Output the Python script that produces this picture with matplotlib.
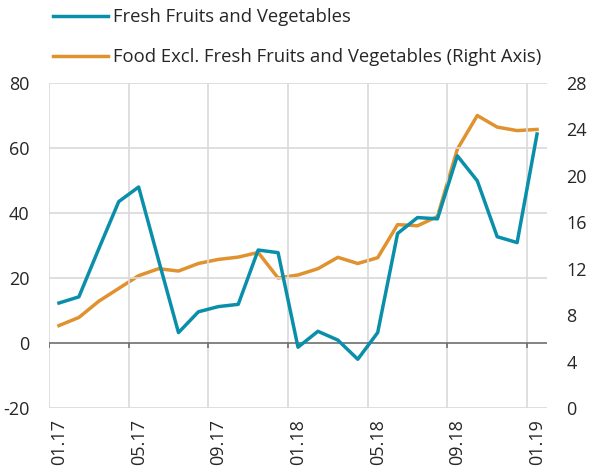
import numpy as np
import matplotlib
matplotlib.use('Agg')
import matplotlib.pyplot as plt

plt.rcParams['font.family'] = ['Open Sans', 'DejaVu Sans']
plt.rcParams['axes.unicode_minus'] = False

# Dados
meses = ['01.17', '02.17', '03.17', '04.17', '05.17', '06.17', '07.17', '08.17', '09.17',
         '10.17', '11.17', '12.17', '01.18', '02.18', '03.18', '04.18', '05.18', '06.18',
         '07.18', '08.18', '09.18', '10.18', '11.18', '12.18', '01.19']
frutas_legumes = [12.3, 14.2, 29.0, 43.5, 48.0, 25.5, 3.2, 9.6, 11.2, 11.9, 28.6, 27.8,
                  -1.3, 3.6, 0.9, -5.0, 3.2, 33.7, 38.6, 38.2, 57.6, 49.9, 32.7, 30.9, 64.3]
alimentos_excl = [7.1, 7.8, 9.2, 10.3, 11.4, 12.0, 11.8, 12.45, 12.8, 13.0, 13.4, 11.2,
                  11.46, 12.0, 12.98, 12.45, 12.95, 15.8, 15.7, 16.5, 22.3, 25.2, 24.2, 23.9, 24.0]
label_azul = 'Fresh Fruits and Vegetables'
label_laranja = 'Food Excl. Fresh Fruits and Vegetables (Right Axis)'

azul = '#0A8FAB'
laranja = '#E0922F'
cinza = '#D9D9D9'
texto = '#262626'

x = np.arange(len(meses))

fig = plt.figure(figsize=(5.9, 4.73), dpi=100)
ax = fig.add_axes([49 / 590, 1 - 408 / 473, (547 - 49) / 590, (408 - 83) / 473])
ax2 = ax.twinx()

# Eixo esquerdo
ax.set_xlim(-0.5, len(meses) - 0.5)
ax.set_ylim(-20, 80)
ax.set_yticks(np.arange(-20, 81, 20))
for v in np.arange(-20, 81, 20):
    if v != 0:
        ax.axhline(v, color=cinza, lw=1.2, zorder=0)
limites = np.arange(-0.5, len(meses) - 0.5, 4)
for b in limites:
    ax.axvline(b, color=cinza, lw=1.2, zorder=0)
ax.axhline(0, color='#6E6E6E', lw=1.2, zorder=1)
ax.vlines(limites, -1.6, 0, color='#6E6E6E', lw=1.2, zorder=1)

ax.set_xticks(x[::4])
ax.set_xticklabels(meses[::4], rotation=90)
ax.tick_params(axis='x', length=0, pad=8, labelsize=13, colors=texto)
ax.tick_params(axis='y', length=0, pad=14, labelsize=13, colors=texto)

# Eixo direito
ax2.set_ylim(0, 28)
ax2.set_yticks(np.arange(0, 29, 4))
ax2.tick_params(axis='y', length=0, pad=14, labelsize=13, colors=texto)

for a in (ax, ax2):
    for s in a.spines.values():
        s.set_visible(False)

l1, = ax.plot(x, frutas_legumes, color=azul, lw=2.5, label=label_azul, zorder=3)
l2, = ax2.plot(x, alimentos_excl, color=laranja, lw=2.5, label=label_laranja, zorder=3)
ax.set_zorder(ax2.get_zorder() + 1)
ax.patch.set_visible(False)

fig.legend(handles=[l1, l2], loc='upper left', bbox_to_anchor=(53 / 590, 1 - 8 / 473),
           frameon=False, fontsize=13.3, handlelength=3.0, handletextpad=0.25,
           labelspacing=1.2, borderpad=0, borderaxespad=0, labelcolor=texto)

fig.savefig('out.png', dpi=100)
